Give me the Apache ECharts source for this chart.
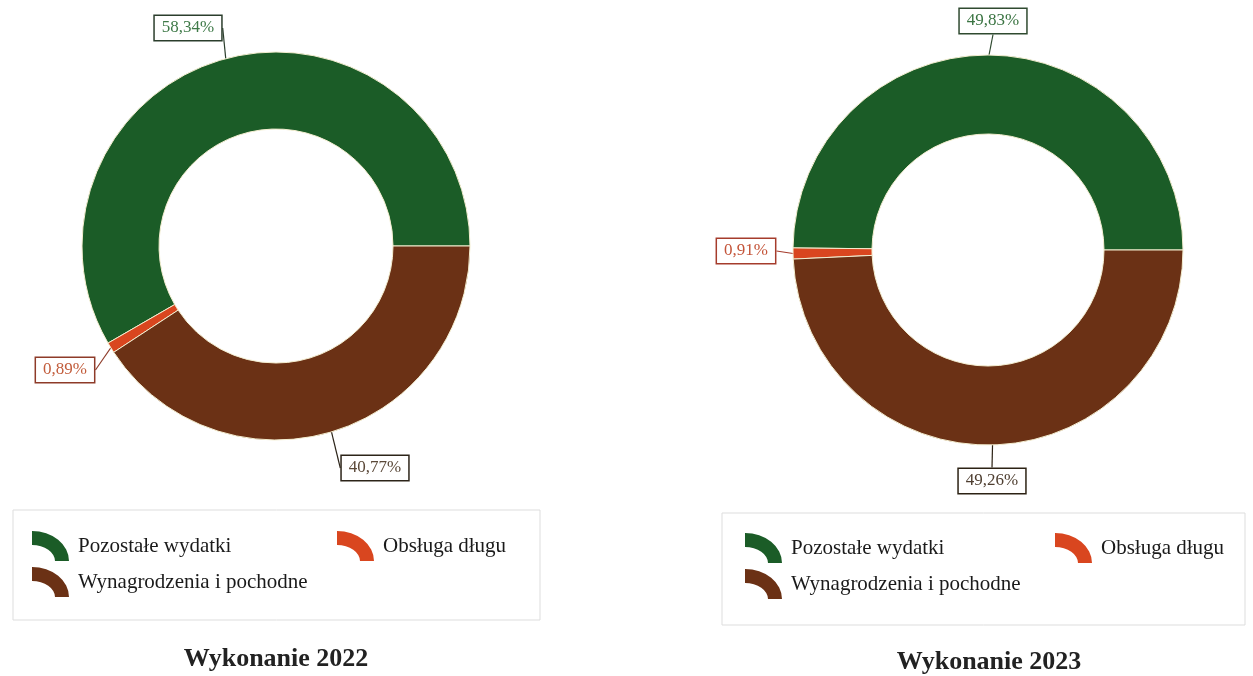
<!DOCTYPE html>
<html>
<head>
<meta charset="utf-8">
<script src="https://cdn.jsdelivr.net/npm/echarts@6/dist/echarts.min.js"></script>
<style>html,body{margin:0;padding:0;background:#fff;}#c{width:1253px;height:676px;}</style>
</head>
<body>
<div id="c"></div>
<script>
const categories = ['Pozostałe wydatki', 'Obsługa długu', 'Wynagrodzenia i pochodne'];
const values2022 = [58.34, 0.89, 40.77];
const values2023 = [49.83, 0.91, 49.26];
const titles = ['Wykonanie 2022', 'Wykonanie 2023'];

const sliceColors = ['#1b5c27', '#d9461f', '#6b3115'];
const labelText = [['#3f7a48', '#c25d3c', '#5a4838'], ['#3a7442', '#c4553a', '#4e3e30']];
const labelBorder = [['#2b3d2c', '#8e3b29', '#2c2419'], ['#2f4a30', '#a53c2c', '#2c2214']];

// layout (label centres, in px)
const labelPos = [
  [[188, 28], [65, 370], [375, 468]],
  [[993, 21], [746, 251], [992, 481]]
];

const iconPath = 'path://M0,0 A37,30 0 0 1 37,30 L23,30 A23,16 0 0 0 0,14 Z';

function fmt(v) { return v.toFixed(2).replace('.', ',') + '%'; }

function makeSeries(vals, idx, center, radius) {
  return {
    type: 'pie',
    center: center,
    radius: radius,
    startAngle: 0,
    clockwise: false,
    silent: true,
    animation: false,
    itemStyle: { borderColor: '#f4eed0', borderWidth: 1 },
    label: {
      show: true,
      position: 'outside',
      formatter: p => fmt(p.value),
      fontFamily: 'Liberation Serif',
      fontSize: 17,
      backgroundColor: '#fff',
      borderWidth: 1.5,
      padding: [4, 7, 3, 7]
    },
    labelLine: { show: true, length: 10, length2: 0, lineStyle: { width: 1.2 } },
    labelLayout: function (p) {
      const pos = labelPos[idx][p.dataIndex];
      return { x: pos[0], y: pos[1], align: 'center', verticalAlign: 'middle' };
    },
    data: categories.map((n, i) => ({
      name: n,
      value: vals[i],
      itemStyle: { color: sliceColors[i] },
      label: { color: labelText[idx][i], borderColor: labelBorder[idx][i] },
      labelLine: { lineStyle: { color: labelBorder[idx][i] } }
    }))
  };
}

function legendItem(name, left, top) {
  return {
    data: [name], left: left, top: top, padding: 0,
    itemWidth: 37, itemHeight: 30, icon: iconPath,
    selectedMode: false,
    itemStyle: { borderWidth: 0 },
    textStyle: { fontFamily: 'Liberation Serif', fontSize: 21, color: '#1a1a1a', padding: [0, 0, 0, 4] }
  };
}

const chart = echarts.init(document.getElementById('c'), null, { renderer: 'canvas' });
chart.setOption({
  backgroundColor: '#ffffff',
  animation: false,
  color: sliceColors,
  title: [
    { text: titles[0], left: 271, top: 641, textAlign: 'center',
      textStyle: { fontFamily: 'Liberation Serif', fontWeight: 'bold', fontSize: 26, color: '#222' } },
    { text: titles[1], left: 984, top: 644, textAlign: 'center',
      textStyle: { fontFamily: 'Liberation Serif', fontWeight: 'bold', fontSize: 26, color: '#222' } }
  ],
  legend: [
    legendItem(categories[0], 32, 531),
    legendItem(categories[1], 337, 531),
    legendItem(categories[2], 32, 567),
    legendItem(categories[0], 745, 533),
    legendItem(categories[1], 1055, 533),
    legendItem(categories[2], 745, 569)
  ],
  graphic: [
    { type: 'rect', shape: { x: 13, y: 510, width: 527, height: 110 }, style: { fill: 'none', stroke: '#dddddd', lineWidth: 1 }, silent: true },
    { type: 'rect', shape: { x: 722, y: 513, width: 523, height: 112 }, style: { fill: 'none', stroke: '#dddddd', lineWidth: 1 }, silent: true }
  ],
  series: [
    makeSeries(values2022, 0, [276, 246], [117, 194]),
    makeSeries(values2023, 1, [988, 250], [116, 195])
  ]
});
</script>
</body>
</html>
